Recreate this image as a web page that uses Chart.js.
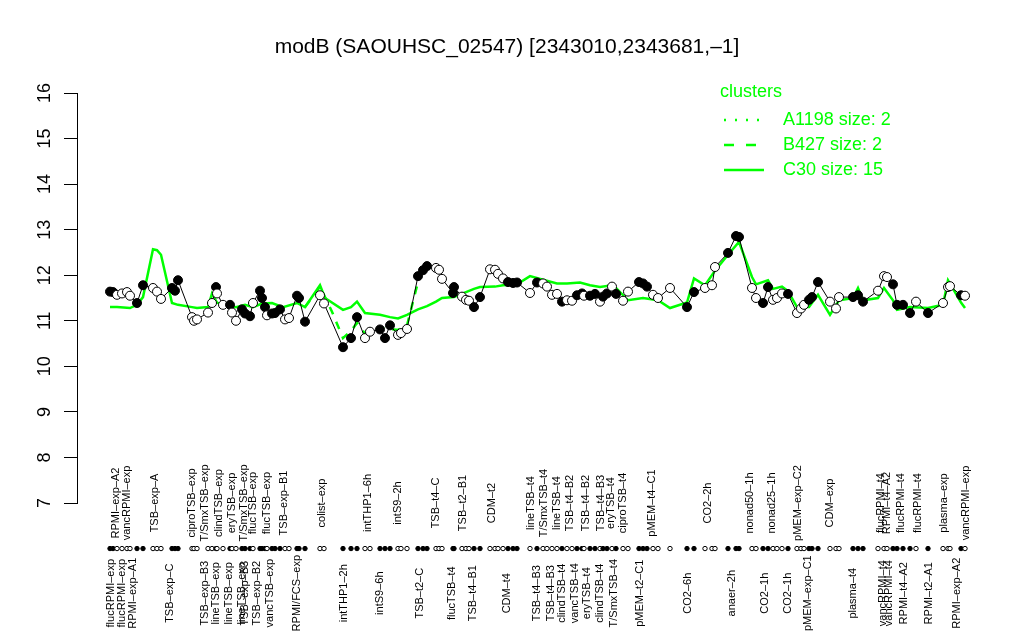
<!DOCTYPE html>
<html>
<head>
<meta charset="utf-8">
<script src="https://cdn.jsdelivr.net/npm/chart.js@4"></script>
<style>
  html, body { margin: 0; padding: 0; background: #fff; }
  #wrap { width: 1024px; height: 640px; }
</style>
</head>
<body>
<div id="wrap"><canvas id="exprChart" width="1024" height="640"></canvas></div>
<script>
// modB expression profile

const titleText = 'modB (SAOUHSC_02547) [2343010,2343681,–1]';
const yTicks = [7, 8, 9, 10, 11, 12, 13, 14, 15, 16];

// sample order position (groups of replicates, gaps between conditions)
const samplePos = [2.5, 3.25, 4.25, 5.5, 6.75, 7.5, 9.25, 10.75, 13.25, 14.25, 15.25, 18, 18.75, 19.5,
  23, 23.5, 24.25, 27, 28, 29, 29.25, 30.75, 32.5, 33, 34, 35.5, 36.25, 37.5, 38.25, 40, 40.5, 41.25,
  41.75, 43, 43.75, 45, 46.25, 47.25, 49.25, 49.75, 51.25, 55, 56, 60.75, 62.75, 64.25, 66.25, 67.5,
  70, 71.25, 72.5, 74.5, 75.25, 76.75, 79.5, 80.75, 81.75, 84, 84.75, 85.5, 88.25, 88.5, 90.5, 91.5,
  92.25, 93.5, 95, 97.5, 98.75, 99.5, 100.75, 102, 103.25, 104.25, 107.5, 109.25, 110.75, 111.75,
  113, 114.25, 115.5, 116.75, 118, 119.25, 120.5, 121, 122.5, 123.75, 125, 125.75, 126.75, 128, 129,
  130.75, 132, 134.75, 135.75, 136.75, 138.25, 139.5, 142.5, 146.75, 148.5, 151.25, 153, 153.75, 157,
  159, 159.75, 163, 164, 165.75, 167, 168.25, 169.25, 170.5, 172, 174.25, 175.25, 176, 177.25, 178,
  179.5, 182.5, 184, 184.75, 188.25, 189.5, 190.75, 194.5, 196, 196.75, 198.25, 199.25, 200.75,
  202.5, 204, 207, 210.75, 212, 212.5, 215.25, 216.25];

const sampleVals = [11.64, 11.63, 11.57, 11.60, 11.63, 11.55, 11.39, 11.78, 11.72, 11.64, 11.48, 11.72,
  11.66, 11.89, 11.08, 11.00, 11.03, 11.18, 11.39, 11.74, 11.60, 11.35, 11.35, 11.18, 11.00, 11.25,
  11.16, 11.10, 11.39, 11.66, 11.50, 11.30, 11.12, 11.16, 11.17, 11.25, 11.03, 11.06, 11.55, 11.50,
  10.98, 11.56, 11.38, 10.42, 10.62, 11.08, 10.62, 10.76, 10.81, 10.62, 10.90, 10.69, 10.73, 10.82,
  11.98, 12.11, 12.20, 12.16, 12.12, 11.92, 11.61, 11.74, 11.53, 11.46, 11.44, 11.30, 11.52, 12.13,
  12.12, 12.03, 11.93, 11.85, 11.83, 11.84, 11.61, 11.84, 11.82, 11.75, 11.57, 11.59, 11.42, 11.45,
  11.44, 11.56, 11.60, 11.55, 11.55, 11.59, 11.42, 11.53, 11.60, 11.75, 11.59, 11.44, 11.64, 11.85,
  11.82, 11.75, 11.57, 11.50, 11.72, 11.30, 11.63, 11.72, 11.78, 12.18, 12.49, 12.86, 12.84, 11.72,
  11.50, 11.39, 11.74, 11.46, 11.50, 11.60, 11.59, 11.17, 11.27, 11.35, 11.46, 11.52, 11.85, 11.42,
  11.27, 11.52, 11.52, 11.56, 11.42, 11.66, 11.98, 11.96, 11.80, 11.35, 11.35, 11.17, 11.42, 11.17,
  11.39, 11.74, 11.76, 11.56, 11.55];

// 1 = filled dot, 0 = open dot
const sampleFilled = [1, 1, 0, 0, 0, 0, 1, 1, 0, 0, 0, 1, 1, 1, 0, 0, 0, 0, 0, 1, 0, 0, 1, 0, 0, 1, 1,
  1, 0, 1, 1, 1, 0, 1, 1, 1, 0, 0, 1, 1, 1, 0, 0, 1, 1, 1, 0, 0, 1, 1, 1, 0, 0, 0, 1, 1, 1, 0, 0, 0,
  1, 1, 0, 0, 0, 1, 1, 0, 0, 0, 0, 1, 1, 1, 0, 1, 0, 0, 0, 0, 1, 0, 0, 1, 1, 0, 1, 1, 0, 1, 1, 0, 1,
  0, 0, 1, 1, 1, 0, 0, 0, 1, 1, 0, 0, 0, 1, 1, 1, 0, 0, 1, 1, 0, 0, 0, 1, 0, 0, 0, 1, 1, 1, 0, 0, 0,
  1, 1, 1, 0, 0, 0, 1, 1, 1, 1, 0, 1, 0, 0, 0, 1, 0];

// cluster C30 profile (solid green)
const c30Pos = [2.5, 4.25, 7.5, 9.25, 10.75, 13.25, 14.25, 15.25, 18, 19.5, 23, 24.25, 27, 28, 29.25,
  30.75, 34, 36.25, 38.25, 40.5, 43, 45.75, 49.25, 51.25, 55, 56.25, 60.75, 62.75, 64.25, 66.25, 70,
  72.5, 74.5, 76.75, 79.5, 81.75, 84, 85.5, 88.5, 91.5, 93.5, 95, 98.75, 100.75, 104.25, 107.5,
  110.75, 114.25, 116.75, 120, 122.5, 125, 128, 129, 132, 135.75, 139.5, 142.5, 146.75, 148.5,
  151.25, 153.75, 157, 159.75, 163, 164, 167, 168.25, 170.5, 172, 174.25, 177.25, 179.5, 182.5,
  184.75, 188.25, 189.5, 190.75, 194.5, 196, 198.25, 199.25, 202.5, 207, 210.75, 212, 215.25, 216.25];
const c30Vals = [11.30, 11.30, 11.28, 11.35, 11.52, 12.57, 12.55, 12.45, 11.39, 11.35, 11.30, 11.28,
  11.30, 11.60, 11.40, 11.35, 11.30, 11.35, 11.30, 11.38, 11.39, 11.30, 11.39, 11.30, 11.78, 11.50,
  11.24, 11.30, 11.42, 11.17, 11.13, 11.08, 11.05, 11.13, 11.25, 11.32, 11.42, 11.50, 11.52, 11.63,
  11.70, 11.74, 11.75, 11.78, 11.80, 11.98, 11.90, 11.82, 11.82, 11.84, 11.78, 11.74, 11.78, 11.72,
  11.45, 11.50, 11.45, 11.28, 11.40, 11.93, 11.78, 12.10, 12.45, 12.73, 11.96, 11.80, 11.89, 11.70,
  11.75, 11.65, 11.30, 11.30, 11.57, 11.13, 11.45, 11.50, 11.72, 11.45, 11.50, 11.72, 11.45, 11.24,
  11.30, 11.28, 11.35, 11.89, 11.40, 11.28];

// cluster B427 profile (dashed green), only where it leaves C30
const b427Pos = [51.25, 55, 58, 60.75, 62.75, 64.25, 66.25, 70, 74.5, 76.75, 79.5];
const b427Vals = [11.30, 11.75, 11.20, 10.62, 10.78, 10.95, 10.72, 10.85, 10.80, 10.90, 11.85];

// sample names: upper row and lower row under the plot
const topNames = ['RPMI–exp–A2', 'vancRPMI–exp', 'TSB–exp–A', 'ciproTSB–exp', 'T/SmxTSB–exp',
  'clindTSB–exp', 'eryTSB–exp', 'T/SmxTSB–exp', 'flucTSB–exp', 'flucTSB–exp', 'TSB–exp–B1',
  'colist–exp', 'intTHP1–6h', 'intS9–2h', 'TSB–t4–C', 'TSB–t2–B1', 'CDM–t2', 'lineTSB–t4',
  'T/SmxTSB–t4', 'lineTSB–t4', 'TSB–t4–B2', 'TSB–t4–B2', 'TSB–t4–B3', 'eryTSB–t4', 'ciproTSB–t4',
  'pMEM–t4–C1', 'CO2–2h', 'nonad50–1h', 'nonad25–1h', 'pMEM–exp–C2', 'CDM–exp', 'flucRPMI–t4',
  'RPMI–t4–A2', 'flucRPMI–t4', 'flucRPMI–t4', 'plasma–exp', 'vancRPMI–exp'];
const topNamePos = [4, 6.75, 13.75, 23, 26.25, 29.75, 33, 36, 38.25, 41.75, 46, 55.5, 67, 74.5, 84,
  90.75, 98, 107.75, 111, 114.25, 117.5, 121.5, 125.25, 127.75, 130.75, 138, 152, 162.5, 168,
  174.5, 182.5, 195.25, 196.75, 200.25, 204.5, 211, 216.5];

const bottomNames = ['flucRPMI–exp', 'flucRPMI–exp', 'RPMI–exp–A1', 'TSB–exp–C', 'TSB–exp–B3',
  'lineTSB–exp', 'lineTSB–exp', 'lineTSB–exp', 'TSB–exp–B3', 'TSB–exp–B2', 'vancTSB–exp',
  'RPMI/FCS–exp', 'intTHP1–2h', 'intS9–6h', 'TSB–t2–C', 'flucTSB–t4', 'TSB–t4–B1', 'CDM–t4',
  'TSB–t4–B3', 'TSB–t4–B3', 'clindTSB–t4', 'vancTSB–t4', 'eryTSB–t4', 'clindTSB–t4', 'T/SmxTSB–t4',
  'pMEM–t2–C1', 'CO2–6h', 'anaer–2h', 'CO2–1h', 'CO2–1h', 'pMEM–exp–C1', 'plasma–t4',
  'vancRPMI–t4', 'vancRPMI–t4', 'RPMI–t4–A2', 'RPMI–t2–A1', 'RPMI–exp–A2'];
const bottomNamePos = [2.75, 5.5, 8.25, 17.5, 26.25, 29, 32.25, 35.5, 36.25, 39.25, 42.5, 49.25,
  61, 70, 80, 88, 93.25, 101.75, 109.25, 112.75, 115.5, 118.75, 121.75, 125, 128.5, 135, 147, 158,
  166.25, 172, 177, 188.25, 195.75, 197.25, 201, 207.25, 214.25];

const legendTitle = 'clusters';
const legendNames = ['A1198 size: 2', 'B427 size: 2', 'C30 size: 15'];
const legendDash = [[2, 9], [10, 12], []];

const GREEN = '#00ff00';
const FONT = '"Liberation Sans", Arial, Helvetica, sans-serif';
const STRIP_Y = 6;      // row of small dots under the axis
const TOP_NAME_Y = 7;   // centre of the upper name row
const BOT_NAME_Y = 5.02; // centre of the lower name row

function xy(xs, ys) {
  return xs.map((x, i) => ({ x: x, y: ys[i] }));
}

const fills = sampleFilled.map(f => f ? '#000' : '#fff');

// text around the plot: title, y labels, sample strip and names, legend
const decorPlugin = {
  id: 'decor',
  afterDraw(chart) {
    const ctx = chart.ctx;
    const xs = chart.scales.x;
    const ys = chart.scales.y;
    ctx.save();

    ctx.fillStyle = '#000';
    ctx.font = '21px ' + FONT;
    ctx.textAlign = 'center';
    ctx.textBaseline = 'middle';
    ctx.fillText(titleText, 507, 47);

    // y tick labels, rotated like R's default
    ctx.font = '18px ' + FONT;
    yTicks.forEach(v => {
      ctx.save();
      ctx.translate(45, ys.getPixelForValue(v));
      ctx.rotate(-Math.PI / 2);
      ctx.fillText(String(v), 0, 0);
      ctx.restore();
    });

    // strip of small dots, one per sample (points outside the area are not drawn by the controller)
    const sy = ys.getPixelForValue(STRIP_Y);
    ctx.lineWidth = 1;
    ctx.strokeStyle = '#000';
    samplePos.forEach((p, i) => {
      ctx.beginPath();
      ctx.arc(xs.getPixelForValue(p), sy, 2.2, 0, Math.PI * 2);
      ctx.fillStyle = fills[i];
      ctx.fill();
      ctx.stroke();
    });

    // sample names
    ctx.fillStyle = '#000';
    ctx.font = '11px ' + FONT;
    const drawNames = (names, pos, yv) => {
      const py = ys.getPixelForValue(yv);
      names.forEach((n, i) => {
        ctx.save();
        ctx.translate(xs.getPixelForValue(pos[i]), py);
        ctx.rotate(-Math.PI / 2);
        ctx.fillText(n, 0, 0);
        ctx.restore();
      });
    };
    drawNames(topNames, topNamePos, TOP_NAME_Y);
    drawNames(bottomNames, bottomNamePos, BOT_NAME_Y);

    // legend
    ctx.fillStyle = GREEN;
    ctx.strokeStyle = GREEN;
    ctx.font = '18px ' + FONT;
    ctx.textAlign = 'left';
    ctx.fillText(legendTitle, 720, 92);
    legendNames.forEach((n, i) => {
      const ly = 120 + i * 25;
      ctx.lineWidth = 2.5;
      ctx.setLineDash(legendDash[i]);
      ctx.beginPath();
      ctx.moveTo(724, ly);
      ctx.lineTo(764, ly);
      ctx.stroke();
      ctx.setLineDash([]);
      ctx.fillText(n, 783, ly);
    });
    ctx.restore();
  }
};

window.onload = () => {
  const ctx = document.getElementById('exprChart').getContext('2d');
  new Chart(ctx, {
    type: 'scatter',
    data: {
      datasets: [
        {
          label: 'samples',
          data: xy(samplePos, sampleVals),
          showLine: true,
          borderColor: '#000',
          borderWidth: 1,
          pointRadius: 4.5,
          pointBorderWidth: 1,
          pointBorderColor: '#000',
          pointBackgroundColor: fills,
          order: 0
        },
        {
          label: 'C30',
          data: xy(c30Pos, c30Vals),
          showLine: true,
          borderColor: GREEN,
          borderWidth: 2.5,
          pointRadius: 0,
          order: 2
        },
        {
          label: 'B427',
          data: xy(b427Pos, b427Vals),
          showLine: true,
          borderColor: GREEN,
          borderWidth: 2.5,
          borderDash: [8, 8],
          pointRadius: 0,
          order: 1
        }
      ]
    },
    options: {
      responsive: false,
      animation: false,
      layout: { padding: { top: 93, bottom: 137, left: 30, right: 39 } },
      plugins: {
        legend: { display: false },
        title: { display: false },
        tooltip: { enabled: false }
      },
      scales: {
        x: {
          type: 'linear',
          display: false,
          min: -5.75,
          max: 221.25
        },
        y: {
          min: 7,
          max: 16,
          afterFit: (s) => { s.width = 47; },
          ticks: { display: false, stepSize: 1 },
          grid: { drawOnChartArea: false, drawTicks: true, tickLength: 13, color: '#000' },
          border: { display: true, color: '#000', width: 1 }
        }
      }
    },
    plugins: [decorPlugin]
  });
};
</script>
</body>
</html>
